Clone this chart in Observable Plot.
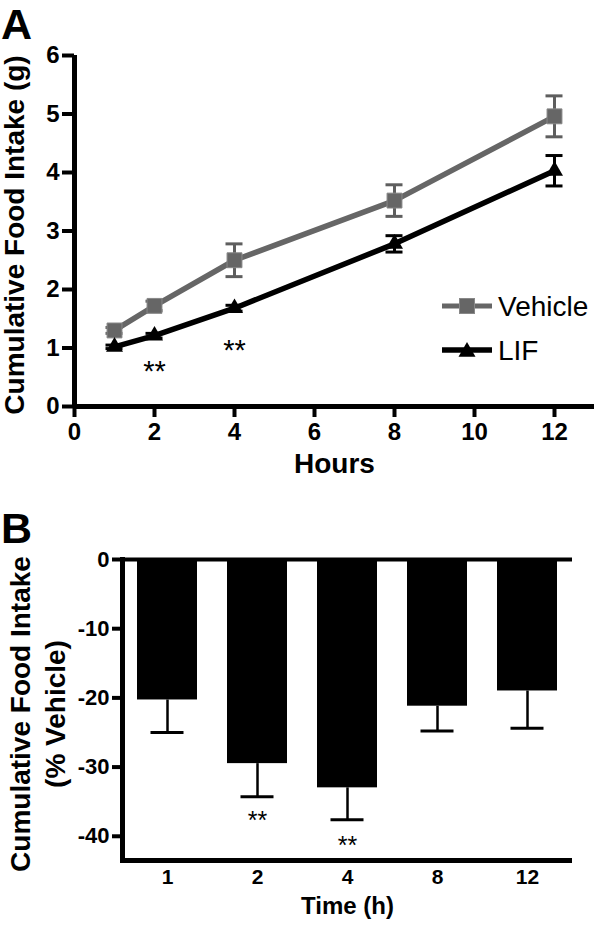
<!DOCTYPE html>
<html>
<head>
<meta charset="utf-8">
<script src="https://cdn.jsdelivr.net/npm/d3@7"></script>
<script src="https://cdn.jsdelivr.net/npm/@observablehq/plot@0.6"></script>
<style>
  html, body { margin: 0; padding: 0; background: #fff; }
  #wrap { position: relative; width: 600px; height: 929px; font-family: "Liberation Sans", Arial, sans-serif; color: #000; }
  .panel { position: absolute; left: 0; }
  .letter { position: absolute; left: 1px; font-size: 43px; font-weight: bold; line-height: normal; }
  #legend { position: absolute; left: 440px; top: 288px; }
  g[aria-label$="axis tick"], g[aria-label$="axis tick"] path { stroke-width: 4px !important; }
</style>
</head>
<body>
<div id="wrap">
  <div class="panel" id="panelA" style="top:0"></div>
  <div class="panel" id="panelB" style="top:490px"></div>
  <div class="letter" style="top:0px">A</div>
  <div class="letter" style="top:504px">B</div>
  <svg id="legend" width="160" height="80" font-family="Liberation Sans, Arial, sans-serif">
    <line x1="2" x2="52" y1="18" y2="18" stroke="#666" stroke-width="5"></line>
    <rect x="19.5" y="10.5" width="15" height="15" fill="#666" stroke="#888" stroke-width="1"></rect>
    <text x="58" y="18" dy="0.36em" font-size="28">Vehicle</text>
    <line x1="2" x2="52" y1="62" y2="62" stroke="#000" stroke-width="5.5"></line>
    <path d="M27,54 L35.5,68.7 L18.5,68.7 Z" fill="#000"></path>
    <text x="58" y="62" dy="0.36em" font-size="28">LIF</text>
  </svg>
</div>
<script>
// ---------- Panel A data ----------
const hoursA = [1, 2, 4, 8, 12];
const vehicleMean = [1.30, 1.72, 2.50, 3.52, 4.96];
const vehicleSem = [0.05, 0.08, 0.28, 0.27, 0.35];
const lifMean = [1.02, 1.21, 1.68, 2.78, 4.03];
const lifSem = [0.03, 0.04, 0.05, 0.14, 0.26];
const starHoursA = [2, 4];
const starValuesA = [0.73, 1.09];
const xTicksA = [0, 2, 4, 6, 8, 10, 12];
const yTicksA = [0, 1, 2, 3, 4, 5, 6];
const xDomainA = [0, 13];
const yDomainA = [0, 6];

// ---------- Panel B data ----------
const timeLabels = ["1", "2", "4", "8", "12"];
const pctChange = [-20.3, -29.5, -33.0, -21.2, -19.0];
const pctSem = [4.7, 4.8, 4.6, 3.6, 5.4];
const starTimesB = ["2", "4"];
const starValuesB = [-36.8, -40.4];
const yTicksB = [0, -10, -20, -30, -40];
const yDomainB = [-43.5, 0];

const FONT = "Liberation Sans, Arial, sans-serif";
const GRAY = "#666";
const plain = d => String(d);

const vehicle = hoursA.map((h, i) => ({h, m: vehicleMean[i], lo: vehicleMean[i] - vehicleSem[i], hi: vehicleMean[i] + vehicleSem[i]}));
const lif = hoursA.map((h, i) => ({h, m: lifMean[i], lo: lifMean[i] - lifSem[i], hi: lifMean[i] + lifSem[i]}));
const starsA = starHoursA.map((h, i) => ({h, y: starValuesA[i]}));

const capsOf = (rows) => rows.flatMap(d => [{h: d.h, y: d.lo}, {h: d.h, y: d.hi}]);

const chartA = Plot.plot({
  width: 600,
  height: 490,
  marginLeft: 74,
  marginRight: 6,
  marginTop: 55,
  marginBottom: 84,
  x: {domain: xDomainA},
  y: {domain: yDomainA},
  style: {fontFamily: FONT, background: "white", color: "black", overflow: "visible"},
  marks: [
    Plot.axisX(xTicksA, {tickSize: 11, tickPadding: 5, fontSize: 24, fontWeight: "bold", strokeWidth: 4, label: null, tickFormat: plain}),
    Plot.axisY(yTicksA, {tickSize: 12, tickPadding: 3, fontSize: 24, fontWeight: "bold", strokeWidth: 4, label: null, tickFormat: plain}),
    Plot.ruleX([xDomainA[0]], {strokeWidth: 5}),
    Plot.ruleY([yDomainA[0]], {strokeWidth: 5}),
    // Vehicle
    Plot.ruleX(vehicle, {x: "h", y1: "lo", y2: "hi", stroke: "#5e5e5e", strokeWidth: 3}),
    Plot.ruleY(capsOf(vehicle), {x1: "h", x2: "h", y: "y", stroke: "#5e5e5e", strokeWidth: 3, insetLeft: -8.5, insetRight: -8.5}),
    Plot.line(vehicle, {x: "h", y: "m", stroke: GRAY, strokeWidth: 5.5}),
    Plot.dot(vehicle, {x: "h", y: "m", symbol: "square", r: 8.4, fill: GRAY, stroke: "#888", strokeWidth: 1}),
    // LIF
    Plot.ruleX(lif, {x: "h", y1: "lo", y2: "hi", stroke: "black", strokeWidth: 3}),
    Plot.ruleY(capsOf(lif), {x1: "h", x2: "h", y: "y", stroke: "black", strokeWidth: 3, insetLeft: -8.5, insetRight: -8.5}),
    Plot.line(lif, {x: "h", y: "m", stroke: "black", strokeWidth: 5.5}),
    Plot.dot(lif, {x: "h", y: "m", symbol: "triangle", r: 6.3, fill: "black"}),
    // significance
    Plot.text(starsA, {x: "h", y: "y", text: () => "**", fontSize: 29, dy: 8}),
    // axis titles
    Plot.text(["Hours"], {frameAnchor: "bottom", dy: 66, fontSize: 28, fontWeight: "bold"}),
    Plot.text(["Cumulative Food Intake (g)"], {frameAnchor: "left", textAnchor: "middle", rotate: -90, dx: -59, dy: 4, fontSize: 28, fontWeight: "bold"})
  ]
});
document.getElementById("panelA").appendChild(chartA);

const bars = timeLabels.map((t, i) => ({t, v: pctChange[i], lo: pctChange[i] - pctSem[i]}));
const starsB = starTimesB.map((t, i) => ({t, y: starValuesB[i]}));

const chartB = Plot.plot({
  width: 600,
  height: 439,
  marginLeft: 122,
  marginRight: 28,
  marginTop: 69,
  marginBottom: 69,
  x: {type: "band", domain: timeLabels, paddingInner: 1 / 3, paddingOuter: 1 / 6},
  y: {domain: yDomainB},
  style: {fontFamily: FONT, background: "white", color: "black", overflow: "visible"},
  marks: [
    Plot.ruleX(bars, {x: "t", y1: "v", y2: "lo", strokeWidth: 2.5}),
    Plot.barY(bars, {x: "t", y1: 0, y2: "v", fill: "black"}),
    Plot.tickY(bars, {x: "t", y: "lo", strokeWidth: 3, insetLeft: 13.5, insetRight: 13.5}),
    Plot.axisY(yTicksB, {tickSize: 10, tickPadding: 3, fontSize: 22, fontWeight: "bold", strokeWidth: 4, label: null, tickFormat: plain}),
    Plot.axisX(timeLabels, {tickSize: 0, tickPadding: 9, fontSize: 21, fontWeight: "bold", label: null}),
    Plot.ruleY([0], {strokeWidth: 4}),
    Plot.ruleY([yDomainB[0]], {strokeWidth: 5}),
    Plot.frame({anchor: "left", strokeWidth: 5}),
    Plot.text(starsB, {x: "t", y: "y", text: () => "**", fontSize: 25, dy: 7}),
    Plot.text(["Time (h)"], {frameAnchor: "bottom", dy: 53, fontSize: 24, fontWeight: "bold"}),
    Plot.text(["Cumulative Food Intake\n(% Vehicle)"], {frameAnchor: "left", textAnchor: "middle", rotate: -90, dx: -86, dy: 4, fontSize: 28, fontWeight: "bold", lineHeight: 1.25})
  ]
});
document.getElementById("panelB").appendChild(chartB);
</script>
</body>
</html>
